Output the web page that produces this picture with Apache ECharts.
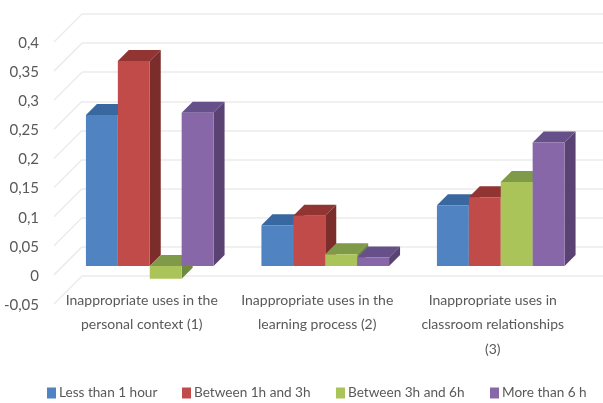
<!DOCTYPE html>
<html><head><meta charset="utf-8">
<style>html,body{margin:0;padding:0;background:#fff}#c{width:603px;height:403px;filter:blur(0.35px)}</style>
<script src="https://cdn.jsdelivr.net/npm/echarts@6/dist/echarts.min.js"></script>
</head><body><div id="c"></div>
<script>
const categories = ['Inappropriate uses in the\npersonal context (1)','Inappropriate uses in the\nlearning process (2)','Inappropriate uses in\nclassroom relationships\n(3)'];
const seriesNames = ['Less than 1 hour','Between 1h and 3h','Between 3h and 6h','More than 6 h'];
const lessThan1h = [0.259,0.07,0.104];
const between1and3 = [0.352,0.086,0.118];
const between3and6 = [-0.022,0.02,0.144];
const moreThan6 = [0.263,0.0145,0.212];
const tickValues = [-0.05,0,0.05,0.1,0.15,0.2,0.25,0.3,0.35,0.4];
const colors = [
 {front:'#5083C2',top:'#39679F',side:'#365F92'},
 {front:'#C14B48',top:'#913432',side:'#7C2D2B'},
 {front:'#ABC45A',top:'#7F9A48',side:'#6E8A3C'},
 {front:'#8767A8',top:'#66508A',side:'#5A4372'}];
const textColor = '#595959';
const font = 'Lato,"Open Sans",sans-serif';
const legendLeft = [47,182,336,490];
const WALL_L=82, WALL_W=526.5, WALL_T=14, WALL_H=262, DEPTH=28, BAR_FRONT=19, BAR_FRONT_X=20, BAR_DEPTH=11, LABEL_SHIFT=1;

function barRenderer(idx){
  return function(params, api){
    const cat=api.value(0), v=api.value(1);
    const band=api.size([1,0])[0];
    const bw=band/5.5;
    const c=api.coord([cat,v]), z=api.coord([cat,0]);
    const x0=c[0]-2*bw+idx*bw-BAR_FRONT_X, x1=x0+bw;
    const yv=c[1]+BAR_FRONT, y0=z[1]+BAR_FRONT;
    const top=Math.min(yv,y0), bot=Math.max(yv,y0);
    const d=BAR_DEPTH, col=colors[idx];
    const poly=(pts,fill)=>({type:'polygon',shape:{points:pts},style:{fill:fill,stroke:null}});
    return {type:'group',children:[
      poly([[x0,top],[x1,top],[x1+d,top-d],[x0+d,top-d]],col.top),
      poly([[x1,top],[x1+d,top-d],[x1+d,bot-d],[x1,bot]],col.side),
      poly([[x0,top],[x1,top],[x1,bot],[x0,bot]],col.front)
    ]};
  };
}
const data=[lessThan1h,between1and3,between3and6,moreThan6];
const barSeries=seriesNames.map((n,i)=>({
  name:n,type:'custom',xAxisIndex:0,yAxisIndex:0,silent:true,z:5,
  itemStyle:{color:colors[i].front},
  encode:{x:0,y:1},
  renderItem:barRenderer(i),
  data:data[i].map((v,k)=>[k,v])
}));
const diag={
  type:'custom',xAxisIndex:0,yAxisIndex:0,silent:true,z:1,
  encode:{x:0,y:1},
  renderItem(params,api){
    const p=api.coord([0,api.value(1)]);
    const x=p[0]-api.size([1,0])[0]/2;
    return {type:'line',shape:{x1:x,y1:p[1],x2:x-DEPTH,y2:p[1]+DEPTH},style:{stroke:'#ebebeb',lineWidth:1.5}};
  },
  data:tickValues.map(v=>[0,v])
};
const chart=echarts.init(document.getElementById('c'),null,{renderer:'canvas'});
chart.setOption({
  animation:false,backgroundColor:'#fff',
  grid:[
    {left:WALL_L,top:WALL_T,width:WALL_W,height:WALL_H,outerBoundsMode:'none'},
    {left:WALL_L-DEPTH,top:WALL_T+DEPTH+LABEL_SHIFT,width:WALL_W,height:WALL_H,outerBoundsMode:'none'}
  ],
  xAxis:[
    {gridIndex:0,type:'category',data:categories,axisLine:{show:false},axisTick:{show:false},axisLabel:{show:false},splitLine:{show:false}},
    {gridIndex:1,type:'category',data:categories,axisLine:{show:false},axisTick:{show:false},splitLine:{show:false},
     axisLabel:{interval:0,margin:-17,color:textColor,fontFamily:font,fontSize:14,lineHeight:24.5}}
  ],
  yAxis:[
    {gridIndex:0,type:'value',min:-0.05,max:0.4,interval:0.05,axisLine:{show:false},axisTick:{show:false},axisLabel:{show:false},
     splitLine:{show:true,lineStyle:{color:'#ebebeb',width:1.5}}},
    {gridIndex:1,type:'value',min:-0.05,max:0.4,interval:0.05,axisLine:{show:false},axisTick:{show:false},splitLine:{show:false},
     axisLabel:{margin:15,color:textColor,fontFamily:font,fontSize:15,formatter:v=>String(+v.toFixed(2)).replace('.',',')}}
  ],
  legend:seriesNames.map((n,i)=>({data:[n],left:legendLeft[i],top:386,padding:0,icon:'rect',itemWidth:9,itemHeight:11,
    textStyle:{color:textColor,fontFamily:font,fontSize:13.6,padding:[0,0,0,-2]}})),
  series:[diag].concat(barSeries)
});
</script></body></html>
